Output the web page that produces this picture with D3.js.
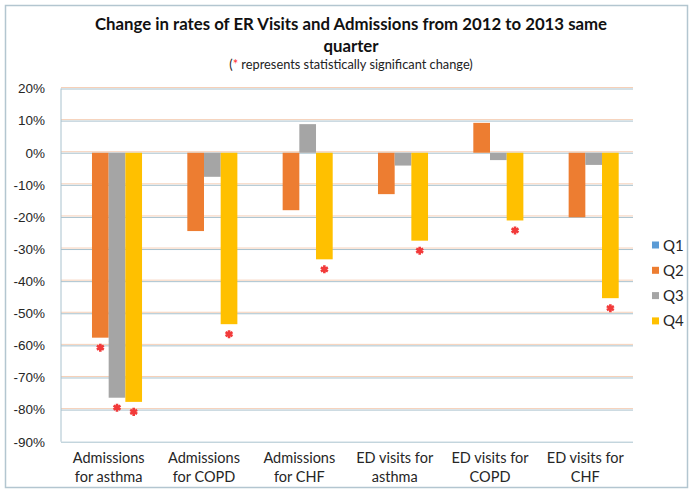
<!DOCTYPE html>
<html>
<head>
<meta charset="utf-8">
<script src="https://cdn.jsdelivr.net/npm/d3@7"></script>
<style>
  body { margin:0; background:#fff; }
  svg { display:block; font-family: Lato, "Open Sans", sans-serif; }
  .grid line { stroke:#a9c2ce; stroke-width:1; }
  .grid .domain { display:none; }
  .axis-y .domain, .axis-y line { display:none; }
  .axis-y text { font-size:13.5px; fill:#262626; }
  .xlab { font-size:14.5px; fill:#262626; }
  .legend text { font-size:15px; fill:#262626; }
</style>
</head>
<body>
<div id="canvas"></div>
<script>
//---- ---- DATA ---- ----
var categories = [
  ['Admissions', 'for asthma'],
  ['Admissions', 'for COPD'],
  ['Admissions', 'for CHF'],
  ['ED visits for', 'asthma'],
  ['ED visits for', 'COPD'],
  ['ED visits for', 'CHF']
];
var seriesNames = ['Q1', 'Q2', 'Q3', 'Q4'];
var q1 = [0, 0, 0, 0, 0, 0];
var q2 = [-57.6, -24.4, -17.9, -12.9, 9.3, -20.1];
var q3 = [-76.3, -7.5, 8.9, -4.0, -2.3, -3.8];
var q4 = [-77.6, -53.4, -33.2, -27.4, -21.1, -45.3];
// statistically significant (gets a red star)
var sigQ2 = [1, 0, 0, 0, 0, 0];
var sigQ3 = [1, 0, 0, 0, 0, 0];
var sigQ4 = [1, 1, 1, 1, 1, 1];
var yTicks = [20, 10, 0, -10, -20, -30, -40, -50, -60, -70, -80, -90];
var colors = ['#5b9bd5', '#ed7d31', '#a5a5a5', '#ffc000'];

var values = [q1, q2, q3, q4];
var sigs = [null, sigQ2, sigQ3, sigQ4];

//---- ---- SIZE ---- ----
var W = 693, H = 493;
var m = {t:88.5, r:60, b:51.3, l:61};
var w = W - m.l - m.r,
    h = H - m.t - m.b;

var svg = d3.select('#canvas').append('svg')
  .attr('width', W).attr('height', H);

// outer frame
svg.append('rect')
  .attr('x', 5.5).attr('y', 5.5).attr('width', W - 11).attr('height', H - 11)
  .attr('fill', '#fff').attr('stroke', '#b3c6d0').attr('stroke-width', 1.5);

//---- ---- TITLE ---- ----
svg.append('text')
  .attr('x', 351).attr('y', 30)
  .attr('text-anchor', 'middle')
  .style('font-size', '16.8px').style('font-weight', 'bold').style('fill', '#111')
  .text('Change in rates of ER Visits and Admissions from 2012 to 2013 same');
svg.append('text')
  .attr('x', 351).attr('y', 52)
  .attr('text-anchor', 'middle')
  .style('font-size', '16.8px').style('font-weight', 'bold').style('fill', '#111')
  .text('quarter');
var sub = svg.append('text')
  .attr('x', 351).attr('y', 69)
  .attr('text-anchor', 'middle')
  .style('font-size', '12.8px').style('fill', '#222');
sub.append('tspan').text('(');
sub.append('tspan').style('fill', '#ff2a2a').text('*');
sub.append('tspan').text(' represents statistically significant change)');

var plot = svg.append('g')
  .attr('transform', 'translate(' + m.l + ',' + m.t + ')');

//---- ---- SCALES ---- ----
var y = d3.scaleLinear().domain([-90, 20]).range([h, 0]);
var x0 = d3.scaleBand()
  .domain(d3.range(categories.length))
  .range([0, w])
  .paddingInner(0.3).paddingOuter(0.15);
var x1 = d3.scaleBand()
  .domain(seriesNames)
  .range([0, x0.bandwidth()]);

//---- ---- GRID ---- ----
plot.append('g').attr('class', 'grid-warm')
  .selectAll('line')
  .data(yTicks.slice(0, -1))
  .enter().append('line')
  .attr('x1', 0).attr('x2', w)
  .attr('y1', function(d){ return y(d) - 1; })
  .attr('y2', function(d){ return y(d) - 1; })
  .attr('stroke', '#f6d0b8').attr('stroke-width', 1);

plot.append('g').attr('class', 'grid')
  .call(d3.axisLeft(y).tickValues(yTicks).tickSize(-w).tickFormat(''));

// left axis line
plot.append('line')
  .attr('x1', 0).attr('x2', 0).attr('y1', 0).attr('y2', h)
  .attr('stroke', '#a9c2ce');

plot.append('g').attr('class', 'axis axis-y')
  .call(d3.axisLeft(y).tickValues(yTicks).tickSize(0).tickPadding(16)
    .tickFormat(function(d){ return d + '%'; }));

//---- ---- BARS ---- ----
function rows(d, i){
  return seriesNames.map(function(s, k){
    return {s:s, k:k, v:values[k][i], sig:sigs[k] ? sigs[k][i] : 0};
  });
}

var groups = plot.selectAll('.cat')
  .data(categories)
  .enter().append('g')
  .attr('class', 'cat')
  .attr('transform', function(d, i){ return 'translate(' + x0(i) + ',0)'; });

groups.selectAll('rect')
  .data(rows)
  .enter().append('rect')
  .attr('x', function(d){ return x1(d.s); })
  .attr('width', x1.bandwidth())
  .attr('y', function(d){ return y(Math.max(0, d.v)); })
  .attr('height', function(d){ return Math.abs(y(d.v) - y(0)); })
  .attr('fill', function(d){ return colors[d.k]; });

// significance stars
var star = d3.symbol().type(d3.symbolAsterisk).size(45);
groups.selectAll('.star')
  .data(function(d, i){ return rows(d, i).filter(function(r){ return r.sig; }); })
  .enter().append('path')
  .attr('class', 'star')
  .attr('d', star)
  .attr('transform', function(d){
    return 'translate(' + (x1(d.s) + x1.bandwidth() / 2) + ',' + (y(d.v) + 10) + ')';
  })
  .attr('fill', 'none')
  .attr('stroke', '#f23a3a')
  .attr('stroke-width', 2.6);

//---- ---- X LABELS ---- ----
var xl = plot.selectAll('.xlab')
  .data(categories)
  .enter().append('text')
  .attr('class', 'xlab')
  .attr('text-anchor', 'middle')
  .attr('transform', function(d, i){ return 'translate(' + (x0(i) + x0.bandwidth() / 2) + ',' + (h + 21) + ')'; });
xl.selectAll('tspan')
  .data(function(d){ return d; })
  .enter().append('tspan')
  .attr('x', 0)
  .attr('dy', function(d, j){ return j === 0 ? 0 : 19; })
  .text(function(d){ return d; });

//---- ---- LEGEND ---- ----
var legend = svg.append('g').attr('class', 'legend')
  .attr('transform', 'translate(652,245)');
var li = legend.selectAll('g')
  .data(seriesNames)
  .enter().append('g')
  .attr('transform', function(d, i){ return 'translate(0,' + (i * 25.3) + ')'; });
li.append('rect')
  .attr('x', 0).attr('y', -3.5).attr('width', 7).attr('height', 7)
  .attr('fill', function(d, i){ return colors[i]; });
li.append('text')
  .attr('x', 11).attr('y', 5.5)
  .text(function(d){ return d; });
</script>
</body>
</html>
